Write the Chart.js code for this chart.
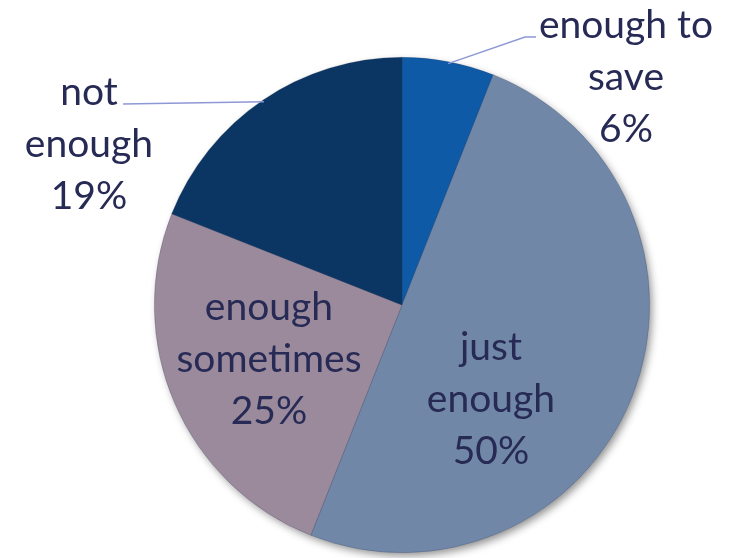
<!DOCTYPE html>
<html>
<head>
<meta charset="utf-8">
<script src="https://cdn.jsdelivr.net/npm/chart.js@4.4.1/dist/chart.umd.min.js"></script>
<style>
  html, body { margin: 0; padding: 0; background: #fff; }
  #wrap { width: 730px; height: 558px; }
</style>
</head>
<body>
<div id="wrap"><canvas id="pieChart" width="730" height="558"></canvas></div>
<script>
// data
const categories = ['enough to save', 'just enough', 'enough sometimes', 'not enough'];
const shares = [6, 50, 25, 19];
const sliceColors = ['#0E5AA6', '#7187A7', '#9A8A9C', '#0B3664'];

// label lines (text) and where they sit
const labelLines = [
  ['enough to', 'save', '6%'],
  ['just', 'enough', '50%'],
  ['enough', 'sometimes', '25%'],
  ['not', 'enough', '19%']
];
const labelPos = [
  { x: 626, y: 38 },
  { x: 491, y: 360 },
  { x: 269, y: 320 },
  { x: 89, y: 105 }
];
const leaderFrom = [
  { x: 536, y: 37, bend: { x: 525, y: 37 } },
  null,
  null,
  { x: 123, y: 104 }
];

const textColor = '#262A55';
const fontFamily = 'Lato, "Open Sans", sans-serif';
const fontSize = 39;
const lineGap = 52;

const shadowPlugin = {
  id: 'pieShadow',
  beforeDatasetsDraw(chart) {
    const arc = chart.getDatasetMeta(0).data[0];
    if (!arc) return;
    const ctx = chart.ctx;
    ctx.save();
    ctx.shadowColor = 'rgba(0,0,0,0.45)';
    ctx.shadowBlur = 8;
    ctx.shadowOffsetX = 3;
    ctx.shadowOffsetY = 4;
    ctx.fillStyle = '#7187A7';
    ctx.beginPath();
    ctx.arc(arc.x, arc.y, arc.outerRadius - 1, 0, Math.PI * 2);
    ctx.fill();
    ctx.restore();
  }
};

const labelPlugin = {
  id: 'pieLabels',
  afterDatasetsDraw(chart) {
    const ctx = chart.ctx;
    const meta = chart.getDatasetMeta(0);
    ctx.save();

    // leader lines
    meta.data.forEach((arc, i) => {
      const from = leaderFrom[i];
      if (!from) return;
      const mid = (arc.startAngle + arc.endAngle) / 2;
      const ex = arc.x + Math.cos(mid) * (arc.outerRadius - 2);
      const ey = arc.y + Math.sin(mid) * (arc.outerRadius - 2);
      ctx.strokeStyle = '#8F98D6';
      ctx.lineWidth = 1.5;
      ctx.beginPath();
      ctx.moveTo(ex, ey);
      if (from.bend) {
        ctx.lineTo(from.bend.x, from.bend.y);
      }
      ctx.lineTo(from.x, from.y);
      ctx.stroke();
    });

    // text
    ctx.fillStyle = textColor;
    ctx.font = fontSize + 'px ' + fontFamily;
    ctx.textAlign = 'center';
    ctx.textBaseline = 'alphabetic';
    labelLines.forEach((lines, i) => {
      const p = labelPos[i];
      lines.forEach((t, j) => {
        ctx.fillText(t, p.x, p.y + j * lineGap);
      });
    });
    ctx.restore();
  }
};

const ctx = document.getElementById('pieChart').getContext('2d');
const chart = new Chart(ctx, {
  type: 'pie',
  data: {
    labels: categories,
    datasets: [{
      data: shares,
      backgroundColor: sliceColors,
      borderWidth: 0.6,
      borderColor: 'rgba(40,50,80,0.35)'
    }]
  },
  options: {
    responsive: false,
    animation: false,
    layout: {
      padding: { left: 154, right: 80, top: 57, bottom: 5 }
    },
    plugins: {
      legend: { display: false },
      tooltip: { enabled: false }
    }
  },
  plugins: [shadowPlugin, labelPlugin]
});
</script>
</body>
</html>
